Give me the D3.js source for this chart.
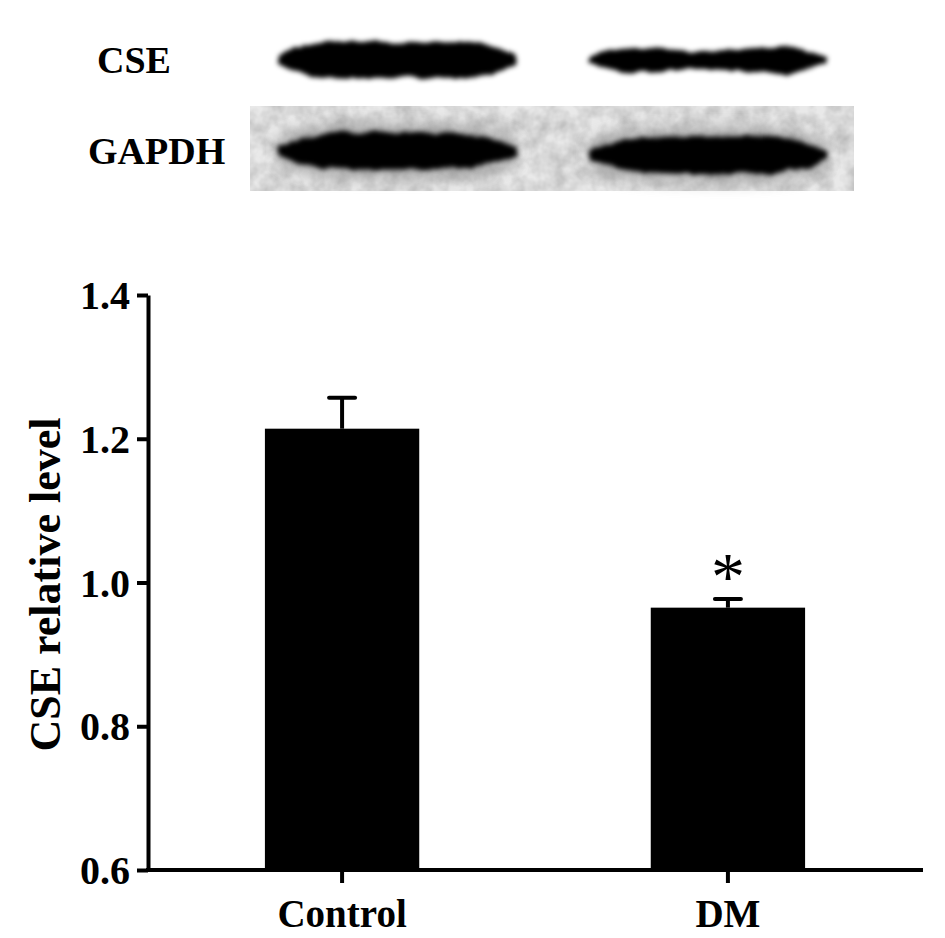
<!DOCTYPE html>
<meta charset="utf-8">
<style>
body { margin: 0; background: #fff; }
svg text { font-family: "Liberation Serif", "Times New Roman", serif; font-weight: bold; fill: #000; }
.axis path, .axis line { stroke: #000; stroke-width: 4px; }
.axis text { font-size: 40px; }
</style>
<svg width="945" height="938"></svg>
<script src="https://cdnjs.cloudflare.com/ajax/libs/d3/7.8.5/d3.min.js"></script>
<script>
// bar chart values
var categories = ["Control", "DM"];
var means = [1.214, 0.965];
var sems = [0.043, 0.012];
var yTicks = [0.6, 0.8, 1.0, 1.2, 1.4];
var significant = [false, true];

// blot rows and band thickness profiles (px, left to right along the lane)
var blotRows = ["CSE", "GAPDH"];
var cseBands = [[30, 38, 37, 35, 34, 35, 36, 31], [22, 25, 22, 17, 19, 23, 27, 25]];
var gapdhBands = [[30, 36, 37, 37, 37, 36, 35, 28], [28, 34, 37, 38, 39, 39, 37, 30]];

var svg = d3.select("svg");
var defs = svg.append("defs");

var rough = defs.append("filter").attr("id", "rough")
    .attr("x", "-10%").attr("y", "-50%").attr("width", "120%").attr("height", "200%");
rough.append("feTurbulence").attr("type", "fractalNoise").attr("baseFrequency", "0.06 0.1")
    .attr("numOctaves", 2).attr("seed", 3).attr("result", "n");
rough.append("feDisplacementMap").attr("in", "SourceGraphic").attr("in2", "n")
    .attr("scale", 7).attr("result", "d");
rough.append("feGaussianBlur").attr("in", "d").attr("stdDeviation", 2.6);

var halo = defs.append("filter").attr("id", "halo")
    .attr("x", "-20%").attr("y", "-100%").attr("width", "140%").attr("height", "300%");
halo.append("feGaussianBlur").attr("stdDeviation", 7);

var grain = defs.append("filter").attr("id", "grain");
grain.append("feTurbulence").attr("type", "fractalNoise").attr("baseFrequency", 0.06)
    .attr("numOctaves", 3).attr("seed", 7);
grain.append("feColorMatrix").attr("type", "matrix")
    .attr("values", "0 0 0 0 0  0 0 0 0 0  0 0 0 0 0  0 0 0 0.3 -0.08");
grain.append("feComposite").attr("in2", "SourceGraphic").attr("operator", "in");

// ---- blot ----
var blotX = d3.scaleBand().domain(categories).range([252, 853]).paddingInner(0.22).paddingOuter(0.08);
var blotY = d3.scalePoint().domain(blotRows).range([60, 151]);
var labelX = {CSE: 97, GAPDH: 88};

var box = svg.append("g");
box.append("rect").attr("x", 250).attr("y", 106).attr("width", 604).attr("height", 85)
    .attr("fill", "#e9e9e9");
box.append("rect").attr("x", 250).attr("y", 106).attr("width", 604).attr("height", 85)
    .attr("fill", "#fff").attr("filter", "url(#grain)");

svg.selectAll(".rowlabel").data(blotRows).enter().append("text")
    .attr("class", "rowlabel")
    .attr("x", function(d) { return labelX[d]; })
    .attr("y", function(d) { return blotY(d); })
    .attr("dy", "0.33em")
    .style("font-size", "38px")
    .text(function(d) { return d; });

function drawBands(row, profiles, haloOn) {
  var cy = blotY(row);
  categories.forEach(function(c, i) {
    var prof = profiles[i];
    var shift = (row === "GAPDH" && i === 1) ? 4 : 0;
    var pts = [prof[0] * 0.3].concat(prof, [prof[prof.length - 1] * 0.3]);
    var px = d3.scaleLinear().domain([0, pts.length - 1])
        .range([blotX(c) + 2, blotX(c) + blotX.bandwidth() - 2]);
    var area = d3.area().curve(d3.curveBasis)
        .x(function(d, k) { return px(k); })
        .y0(function(d) { return cy + shift - d / 2; })
        .y1(function(d) { return cy + shift + d / 2; });
    if (haloOn) {
      svg.append("path").datum(pts.map(function(d) { return d + 18; }))
          .attr("d", area).attr("fill", "#8c8c8c").attr("opacity", 0.6)
          .attr("filter", "url(#halo)");
    }
    svg.append("path").datum(pts).attr("d", area)
        .attr("fill", "#000").attr("filter", "url(#rough)");
  });
}
drawBands("CSE", cseBands, false);
drawBands("GAPDH", gapdhBands, true);

// ---- bar chart ----
var x = d3.scaleBand().domain(categories).range([148, 922]).paddingInner(0.6).paddingOuter(0.303);
var y = d3.scaleLinear().domain([0.6, 1.4]).range([870, 295]);

svg.append("g").attr("class", "axis")
    .attr("transform", "translate(148,0)")
    .call(d3.axisLeft(y).tickValues(yTicks).tickFormat(d3.format(".1f"))
      .tickSize(11).tickSizeOuter(0).tickPadding(7))
    .call(function(g) { g.selectAll("text").attr("dy", "0.34em"); });

var bars = svg.selectAll(".bar").data(categories).enter().append("g").attr("class", "bar");

bars.append("line")
    .attr("x1", function(d) { return x(d) + x.bandwidth() / 2; })
    .attr("x2", function(d) { return x(d) + x.bandwidth() / 2; })
    .attr("y1", function(d, i) { return y(means[i]); })
    .attr("y2", function(d, i) { return y(means[i] + sems[i]); })
    .attr("stroke", "#000").attr("stroke-width", 4);
bars.append("line")
    .attr("x1", function(d) { return x(d) + x.bandwidth() / 2 - 13; })
    .attr("x2", function(d) { return x(d) + x.bandwidth() / 2 + 13; })
    .attr("y1", function(d, i) { return y(means[i] + sems[i]); })
    .attr("y2", function(d, i) { return y(means[i] + sems[i]); })
    .attr("stroke", "#000").attr("stroke-width", 4).attr("stroke-linecap", "round");
bars.append("rect")
    .attr("x", function(d) { return x(d); })
    .attr("width", x.bandwidth())
    .attr("y", function(d, i) { return y(means[i]); })
    .attr("height", function(d, i) { return y(0.6) - y(means[i]); })
    .attr("fill", "#000");

bars.filter(function(d, i) { return significant[i]; }).append("text")
    .attr("x", function(d) { return x(d) + x.bandwidth() / 2; })
    .attr("y", function(d) { var i = categories.indexOf(d); return y(means[i] + sems[i]); })
    .attr("text-anchor", "middle")
    .style("font-size", "68px")
    .style("font-weight", "normal")
    .text("*");

var xAxis = svg.append("g").attr("class", "axis").attr("transform", "translate(0,870)")
    .call(d3.axisBottom(x).tickSize(13).tickSizeOuter(0).tickPadding(8));
xAxis.select(".domain").attr("d", "M146,0H923");
xAxis.selectAll("text").attr("dy", "0.92em").style("font-size", "39px");

svg.append("text")
    .attr("transform", "translate(60," + (y(1.0) + 2) + ") rotate(-90)")
    .attr("text-anchor", "middle")
    .style("font-size", "44px")
    .text("CSE relative level");
</script>
